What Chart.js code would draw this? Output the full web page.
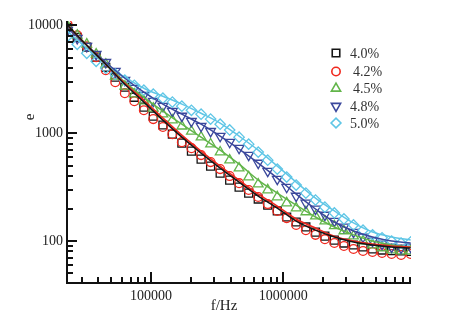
<!DOCTYPE html>
<html>
<head>
<meta charset="utf-8">
<script src="https://cdn.jsdelivr.net/npm/chart.js@4/dist/chart.umd.min.js"></script>
<style>
  html, body { margin: 0; padding: 0; background: #fff; }
  #wrap { width: 474px; height: 322px; }
</style>
</head>
<body>
<div id="wrap"><canvas id="c" width="474" height="322"></canvas></div>
<script>
// Frequencies (Hz) of the measured points
const freq = [23400, 27700, 32700, 38500, 45500, 53700, 63400, 74800, 88300, 104000,
  123000, 145000, 171000, 202000, 239000, 282000, 333000, 393000, 463000, 547000,
  646000, 762000, 900000, 1060000, 1250000, 1480000, 1750000, 2060000, 2430000, 2870000,
  3390000, 4000000, 4720000, 5570000, 6580000, 7760000, 9160000];

// Measured permittivity e for each composition
const e40 = [9580, 7740, 6260, 5060, 4080, 3300, 2670, 2150, 1740, 1440, 1190, 979, 808, 681, 575, 495, 426, 367, 316, 278, 245, 215, 190, 167, 150, 135, 121, 111, 102, 95.8, 91.8, 88.0, 84.3, 82.5, 81.5, 80.8, 80.2];
const e42 = [10200, 8080, 6390, 5060, 3830, 2970, 2350, 1980, 1630, 1350, 1140, 979, 825, 726, 626, 539, 464, 400, 344, 297, 256, 220, 190, 163, 141, 126, 114, 104, 95.8, 89.9, 84.3, 80.8, 79.1, 77.4, 75.8, 74.2, 75.8];
const e45 = [9790, 8080, 6670, 5390, 4350, 3370, 2720, 2300, 1980, 1700, 1500, 1320, 1160, 1040, 918, 791, 667, 562, 474, 392, 337, 297, 256, 225, 202, 186, 170, 153, 138, 124, 111, 100, 91.8, 86.2, 82.5, 80.8, 80.8];
const e48 = [8990, 7580, 6390, 5390, 4540, 3750, 3100, 2610, 2250, 1980, 1780, 1600, 1440, 1290, 1160, 1040, 938, 825, 726, 626, 528, 445, 375, 316, 261, 225, 198, 174, 153, 135, 121, 109, 100, 93.8, 88.0, 86.2, 88.0];
const e50 = [7910, 6670, 5500, 4640, 4000, 3520, 3100, 2780, 2500, 2300, 2110, 1940, 1780, 1630, 1500, 1350, 1210, 1070, 918, 791, 667, 562, 464, 392, 330, 278, 240, 206, 182, 160, 141, 126, 114, 107, 100, 95.8, 97.9];

// Fitted curves (solid lines)
const fitFreq = [23400, 32700, 45500, 63400, 88300, 123000, 171000, 239000, 333000, 463000,
  646000, 900000, 1250000, 1750000, 2430000, 3390000, 4720000, 6580000, 9160000];
const fit40 = [10000, 6530, 4350, 2840, 1940, 1320, 918, 653, 474, 352, 261, 202, 153, 126, 109, 97.9, 91.8, 88.0, 86.2];
const fit42 = [10000, 6530, 4350, 2900, 2020, 1380, 958, 681, 495, 367, 272, 211, 160, 132, 111, 100, 93.8, 89.9, 88.0];
const fit45 = [10000, 6530, 4350, 2970, 2150, 1600, 1210, 918, 696, 516, 367, 278, 215, 167, 135, 114, 100, 91.8, 88.0];
const fit48 = [9380, 6530, 4540, 3230, 2400, 1860, 1500, 1210, 938, 711, 528, 383, 272, 198, 150, 124, 109, 100, 95.8];
const fit50 = [8800, 6130, 4350, 3300, 2610, 2200, 1860, 1530, 1240, 938, 696, 495, 352, 250, 190, 147, 121, 109, 102];

const seriesLabels = ['4.0%', '4.2%', '4.5%', '4.8%', '5.0%'];
const xTickLabels = ['100000', '1000000'];
const yTickLabels = ['100', '1000', '10000'];
const xTitle = 'f/Hz';
const yTitle = 'e';

const colors = ['#151515', '#f0281e', '#62b54a', '#3a479c', '#5fc6e6'];
const styles = [
  { pointStyle: 'rect', radius: 5.6, rotation: 0 },
  { pointStyle: 'circle', radius: 4.4, rotation: 0 },
  { pointStyle: 'triangle', radius: 5.6, rotation: 0 },
  { pointStyle: 'triangle', radius: 5.6, rotation: 180 },
  { pointStyle: 'rectRot', radius: 5.2, rotation: 0 }
];
const measured = [e40, e42, e45, e48, e50];
const fits = [fit40, fit42, fit45, fit48, fit50];

const toXY = (xs, ys) => xs.map((x, i) => ({ x: x, y: ys[i] }));

const datasets = [];
fits.forEach((f, k) => {
  datasets.push({
    label: seriesLabels[k] + ' fit',
    data: toXY(fitFreq, f),
    showLine: true,
    borderColor: colors[k],
    borderWidth: 1.5,
    pointRadius: 0,
    cubicInterpolationMode: 'monotone',
    fill: false,
    order: 1
  });
});
measured.forEach((m, k) => {
  datasets.push({
    label: seriesLabels[k],
    data: toXY(freq, m),
    showLine: false,
    borderColor: colors[k],
    backgroundColor: 'rgba(0,0,0,0)',
    pointBorderColor: colors[k],
    pointBackgroundColor: 'rgba(0,0,0,0)',
    pointStyle: styles[k].pointStyle,
    pointRadius: styles[k].radius,
    pointRotation: styles[k].rotation,
    pointBorderWidth: 1.3,
    order: 2 + (4 - k)
  });
});

const labelFont = { family: "'Liberation Serif', 'DejaVu Serif', serif", size: 14 };

const decor = {
  id: 'decor',
  afterDraw(chart) {
    const ctx = chart.ctx;
    const ca = chart.chartArea;
    const xs = chart.scales.x, ys = chart.scales.y;
    ctx.save();
    ctx.strokeStyle = '#111';
    ctx.lineWidth = 2;
    ctx.lineCap = 'butt';
    // axis lines
    ctx.beginPath();
    ctx.moveTo(ca.left, ca.top);
    ctx.lineTo(ca.left, ca.bottom);
    ctx.lineTo(ca.right, ca.bottom);
    ctx.stroke();
    // inward ticks (x)
    for (let d = 4; d <= 7; d++) {
      for (let m = 1; m <= 9; m++) {
        const v = m * Math.pow(10, d);
        if (v < xs.min || v > xs.max * 1.0001) continue;
        const px = Math.round(xs.getPixelForValue(v));
        const len = m === 1 ? 11 : 6;
        ctx.beginPath();
        ctx.moveTo(px, ca.bottom);
        ctx.lineTo(px, ca.bottom - len);
        ctx.stroke();
      }
    }
    // inward ticks (y)
    for (let d = 1; d <= 4; d++) {
      for (let m = 1; m <= 9; m++) {
        const v = m * Math.pow(10, d);
        if (v < ys.min || v > ys.max) continue;
        const py = Math.round(ys.getPixelForValue(v));
        const len = m === 1 ? 10 : 6;
        ctx.beginPath();
        ctx.moveTo(ca.left, py);
        ctx.lineTo(ca.left + len, py);
        ctx.stroke();
      }
    }
    // axis titles
    ctx.fillStyle = '#222';
    ctx.font = "15px 'Liberation Serif', serif";
    ctx.textAlign = 'center';
    ctx.textBaseline = 'middle';
    ctx.fillText(xTitle, ca.left + 157, 306);
    ctx.save();
    ctx.translate(30, 117);
    ctx.rotate(-Math.PI / 2);
    ctx.fillText(yTitle, 0, 0);
    ctx.restore();
    // legend
    const rows = [53, 71.5, 88.5, 106, 123];
    const textX = [350, 353, 353, 350, 350];
    ctx.font = "14px 'Liberation Serif', serif";
    ctx.textAlign = 'left';
    for (let k = 0; k < 5; k++) {
      const st = styles[k];
      ctx.strokeStyle = colors[k];
      ctx.fillStyle = 'rgba(0,0,0,0)';
      ctx.lineWidth = 1.6;
      Chart.helpers.drawPoint(ctx, {
        pointStyle: st.pointStyle,
        radius: st.radius * 0.95,
        rotation: st.rotation,
        borderWidth: 1.6
      }, 336, rows[k]);
      ctx.fillStyle = '#333';
      ctx.fillText(seriesLabels[k], textX[k], rows[k] + 1);
    }
    ctx.restore();
  }
};

const isDecade = (v) => {
  const l = Math.log10(v);
  return Math.abs(l - Math.round(l)) < 1e-9;
};

new Chart(document.getElementById('c'), {
  type: 'scatter',
  data: { datasets: datasets },
  options: {
    responsive: false,
    animation: false,
    devicePixelRatio: 1,
    layout: { padding: { top: 21, right: 63, left: 0, bottom: 0 } },
    plugins: { legend: { display: false }, tooltip: { enabled: false } },
    scales: {
      x: {
        type: 'logarithmic',
        min: 23180,
        max: 9220000,
        afterFit: (s) => { s.height = 39; },
        grid: { display: false, drawTicks: false },
        border: { display: false },
        ticks: {
          autoSkip: false,
          maxRotation: 0,
          padding: 5,
          color: '#222',
          font: labelFont,
          callback: (v) => (isDecade(v) && xTickLabels.includes(String(Math.round(v)))) ? String(Math.round(v)) : ''
        }
      },
      y: {
        type: 'logarithmic',
        min: 40.8,
        max: 10960,
        afterFit: (s) => { s.width = 67; },
        grid: { display: false, drawTicks: false },
        border: { display: false },
        ticks: {
          autoSkip: false,
          padding: 4,
          color: '#222',
          font: labelFont,
          callback: (v) => (isDecade(v) && yTickLabels.includes(String(Math.round(v)))) ? String(Math.round(v)) : ''
        }
      }
    }
  },
  plugins: [decor]
});
</script>
</body>
</html>
